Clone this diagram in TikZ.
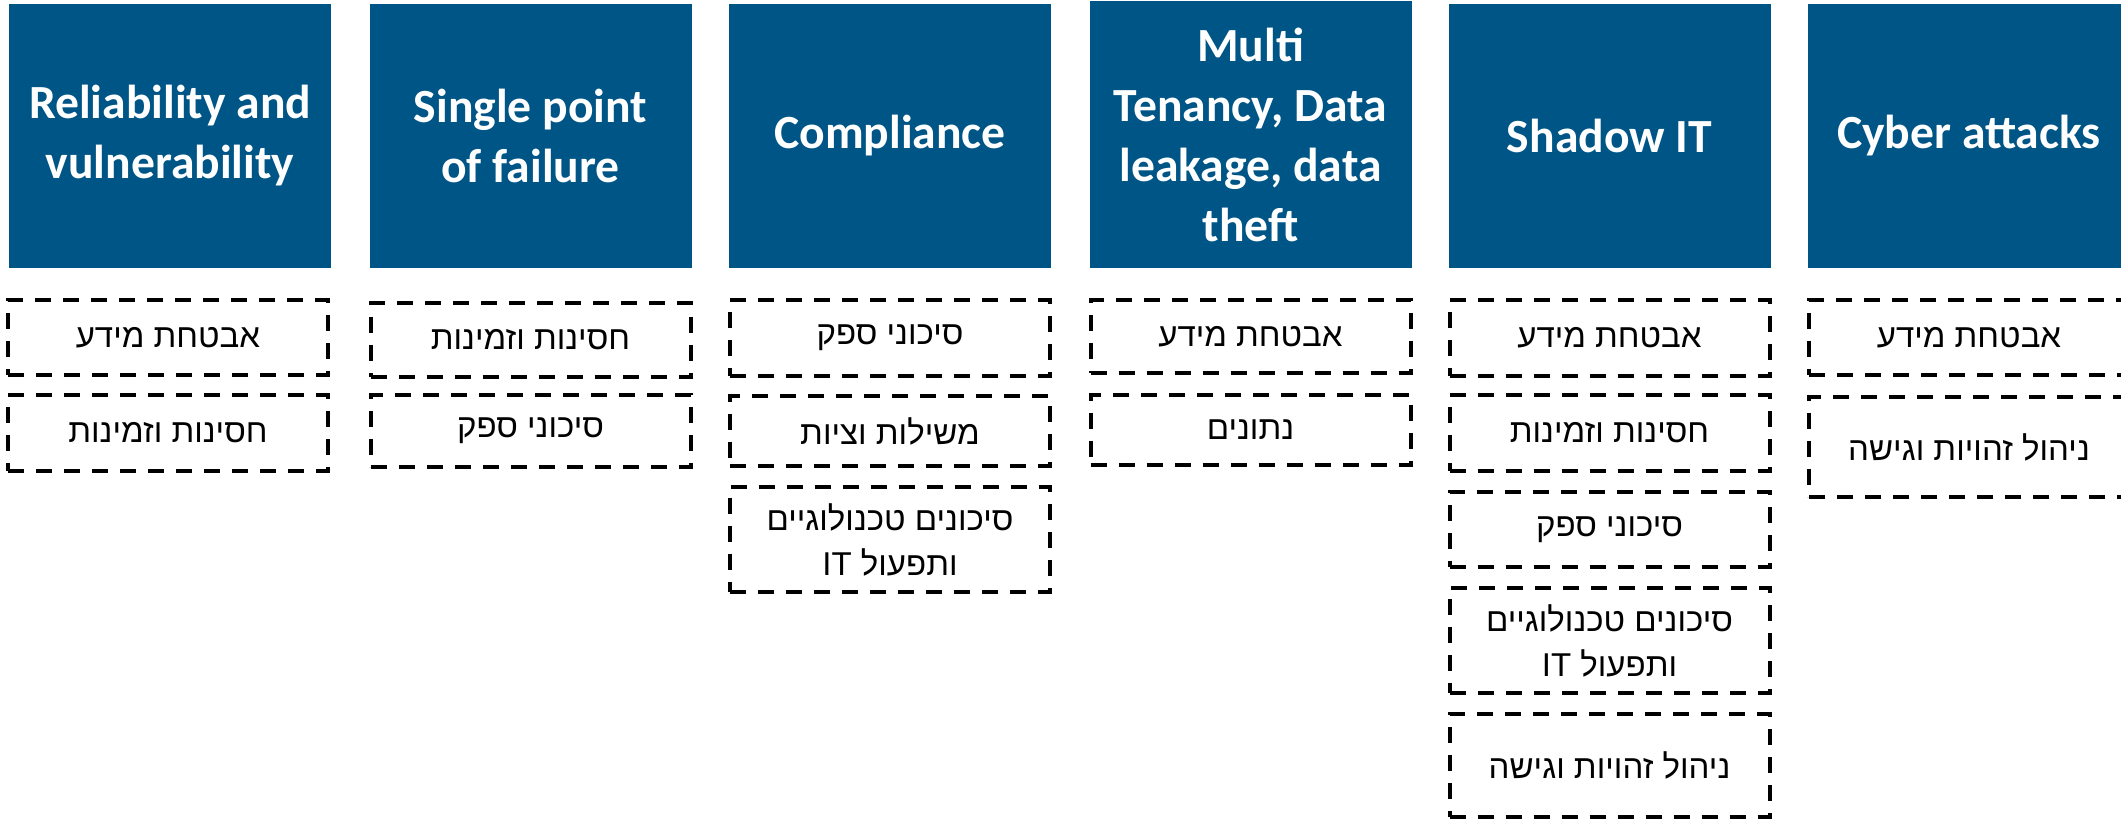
\documentclass[tikz,border=0pt]{standalone}
\usepackage{fontspec}
\setmainfont{Carlito}
\newfontfamily\hebfont[Script=Hebrew]{Liberation Sans}
\TeXXeTstate=1
\usetikzlibrary{positioning}

\definecolor{headblue}{RGB}{0,85,135}
\newcommand{\hebline}[1]{\beginR #1\endR}

\tikzset{
  head/.style={fill=headblue, text=white, font=\fontsize{23.8}{30}\selectfont\bfseries,
    minimum width=161pt, minimum height=132pt, align=center, inner sep=0pt},
  risk/.style={draw, line width=2pt, dash pattern=on 8pt off 6pt,
    font=\hebfont\fontsize{16.5}{22.5}\selectfont, minimum width=160pt, align=center, inner sep=0pt},
}

\begin{document}
\begin{tikzpicture}[x=0.5pt, y=-0.5pt]
\useasboundingbox (0,0) rectangle (2121,822);

% Column headers.
\node[head] (rel) at (170,136) {Reliability and\\vulnerability};
\node[head] (spof) at (530.5,136) {Single point\\of failure};
\node[head] (comp) at (890,136) {Compliance};
\node[head, minimum height=133.5pt] (tenancy) at (1250.5,134.5) {Multi\\Tenancy, Data\\leakage, data\\theft};
\node[head] (shadow) at (1609.5,136) {Shadow IT};
\node[head] (cyber) at (1969,136) {Cyber attacks};

% Reliability and vulnerability.
\node[risk, minimum height=37.5pt] (rel-a) at (168,337.5) {\hebline{אבטחת מידע}};
\node[risk, minimum height=38pt] (rel-b) at (168,433) {\hebline{חסינות וזמינות}};

% Single point of failure.
\node[risk, minimum height=37pt] (spof-a) at (530.5,340) {\hebline{חסינות וזמינות}};
\node[risk, minimum height=36pt] (spof-b) at (530.5,431) {\hebline{סיכוני ספק}};

% Compliance.
\node[risk, minimum height=38pt] (comp-a) at (890,338) {\hebline{סיכוני ספק}};
\node[risk, minimum height=35pt] (comp-b) at (890,431) {\hebline{משילות וציות}};
\node[risk, minimum height=52.5pt] (comp-c) at (890,539.5) {\hebline{סיכונים טכנולוגיים}\\\hebline{ותפעול \beginL IT\endL}};

% Multi tenancy.
\node[risk, minimum height=36.5pt] (tenancy-a) at (1250.5,336.5) {\hebline{אבטחת מידע}};
\node[risk, minimum height=35pt] (tenancy-b) at (1250.5,430) {\hebline{נתונים}};

% Shadow IT.
\node[risk, minimum height=38pt] (shadow-a) at (1609.5,338) {\hebline{אבטחת מידע}};
\node[risk, minimum height=38pt] (shadow-b) at (1609.5,433) {\hebline{חסינות וזמינות}};
\node[risk, minimum height=37.5pt] (shadow-c) at (1609.5,529.5) {\hebline{סיכוני ספק}};
\node[risk, minimum height=52.5pt] (shadow-d) at (1609.5,640.5) {\hebline{סיכונים טכנולוגיים}\\\hebline{ותפעול \beginL IT\endL}};
\node[risk, minimum height=51.5pt] (shadow-e) at (1609.5,765.5) {\hebline{ניהול זהויות וגישה}};

% Cyber attacks.
\node[risk, minimum height=37.5pt] (cyber-a) at (1969,337.5) {\hebline{אבטחת מידע}};
\node[risk, minimum height=50pt] (cyber-b) at (1969,447) {\hebline{ניהול זהויות וגישה}};

\end{tikzpicture}
\end{document}
